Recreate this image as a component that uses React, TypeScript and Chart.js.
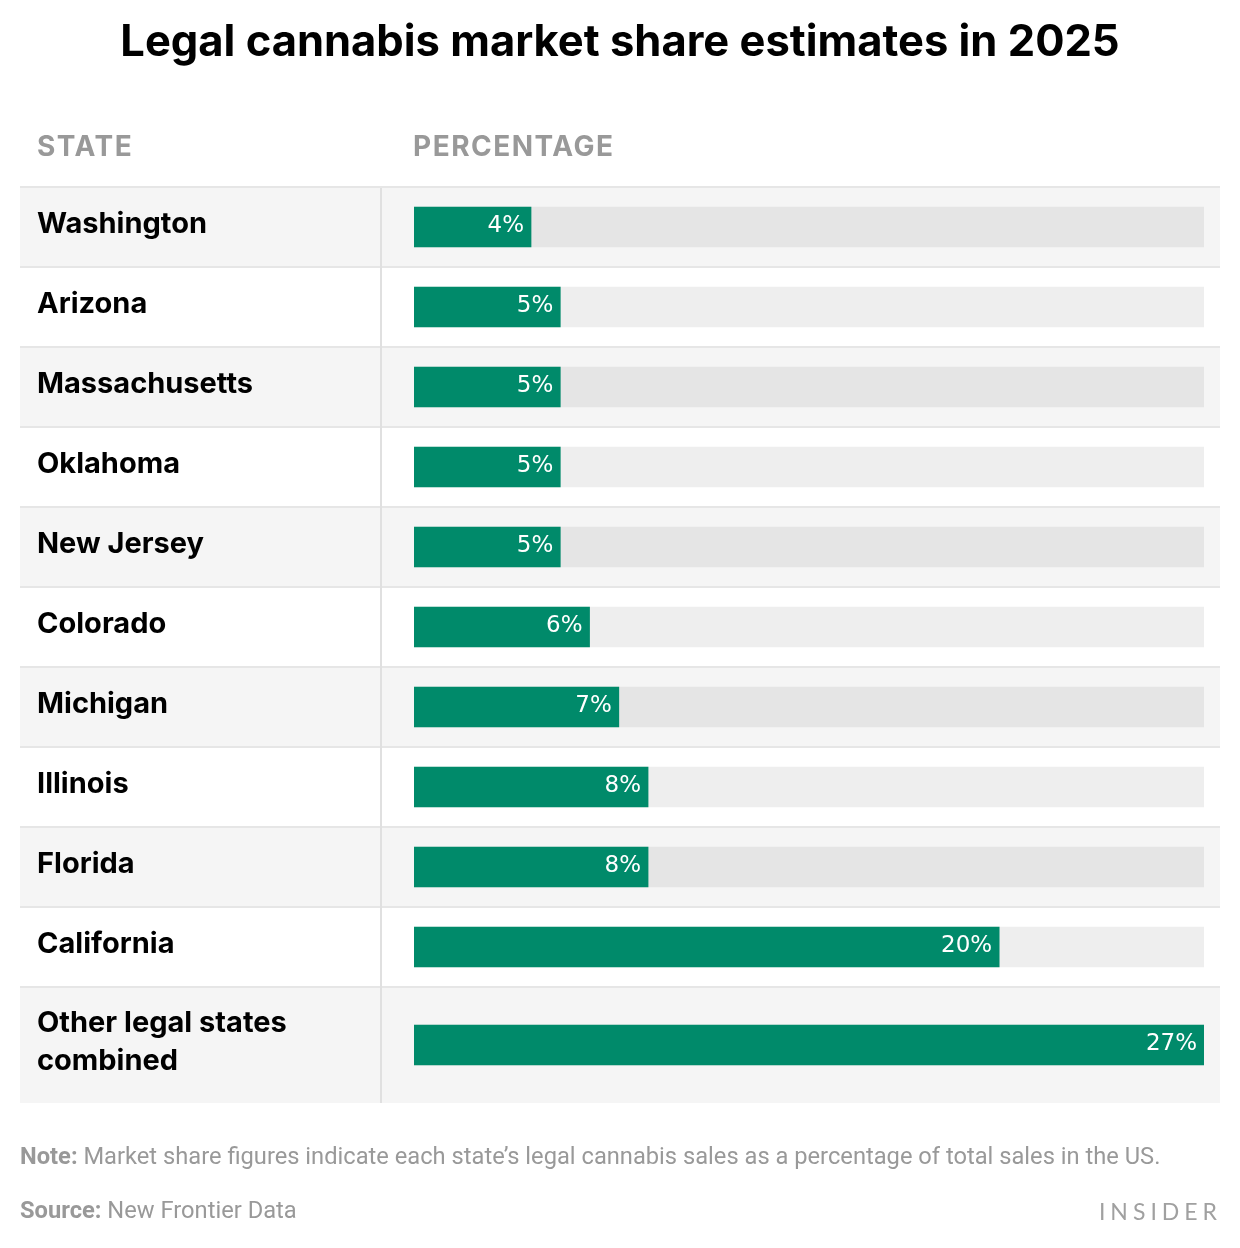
import { useEffect, useRef } from 'react';
import { Chart, registerables } from 'chart.js';

Chart.register(...registerables);

const TITLE = 'Legal cannabis market share estimates in 2025';
const COLUMN_HEADERS = ['STATE', 'PERCENTAGE'];
const STATES: string[][] = [
  ['Washington'],
  ['Arizona'],
  ['Massachusetts'],
  ['Oklahoma'],
  ['New Jersey'],
  ['Colorado'],
  ['Michigan'],
  ['Illinois'],
  ['Florida'],
  ['California'],
  ['Other legal states', 'combined'],
];
const SHARES = [4, 5, 5, 5, 5, 6, 7, 8, 8, 20, 27];
const SCALE_MAX = 27;
const NOTE_LABEL = 'Note:';
const NOTE_TEXT = ' Market share figures indicate each state’s legal cannabis sales as a percentage of total sales in the US.';
const SOURCE_LABEL = 'Source:';
const SOURCE_TEXT = ' New Frontier Data';
const BRAND = 'INSIDER';

const GREEN = '#008a6a';
const SHADE_BG = '#f5f5f5';
const PLAIN_BG = '#ffffff';
const SHADE_TRACK = '#e5e5e5';
const PLAIN_TRACK = '#eeeeee';
const RULE = '#e6e6e6';
const GREY_TEXT = '#999999';
const BOLD_FONT = 'Inter, "Noto Sans", sans-serif';
const NOTE_FONT = 'Roboto, "Liberation Sans", sans-serif';
const VALUE_FONT = '"DejaVu Sans", sans-serif';
const BRAND_FONT = 'Lato, "Open Sans", sans-serif';

// row height in units: one-line rows = 1, two-line rows a bit taller
const rowUnits = STATES.map((lines) => (lines.length > 1 ? 1.45 : 1));
const rowStarts: number[] = [];
rowUnits.reduce((acc, u) => {
  rowStarts.push(acc);
  return acc + u;
}, 0);
const TOTAL_UNITS = rowUnits.reduce((a, b) => a + b, 0);
const rowCenters = rowStarts.map((s, i) => s + rowUnits[i] / 2);

const TABLE_LEFT = 20;
const TABLE_RIGHT = 1220;
const DIVIDER_X = 381;
const LABEL_X = 37;

const tablePlugin = {
  id: 'tablePlugin',
  beforeDatasetsDraw(chart: any) {
    const { ctx } = chart;
    const y = chart.scales.y;
    ctx.save();
    STATES.forEach((_, i) => {
      const top = y.getPixelForValue(rowStarts[i]);
      const bottom = y.getPixelForValue(rowStarts[i] + rowUnits[i]);
      ctx.fillStyle = i % 2 === 0 ? SHADE_BG : PLAIN_BG;
      ctx.fillRect(TABLE_LEFT, top, TABLE_RIGHT - TABLE_LEFT, bottom - top);
    });
    ctx.fillStyle = RULE;
    STATES.forEach((_, i) => {
      const top = y.getPixelForValue(rowStarts[i]);
      ctx.fillRect(TABLE_LEFT, top - 1, TABLE_RIGHT - TABLE_LEFT, 2);
    });
    const tTop = y.getPixelForValue(0);
    const tBottom = y.getPixelForValue(TOTAL_UNITS);
    ctx.fillStyle = '#e0e0e0';
    ctx.fillRect(DIVIDER_X - 1, tTop + 1, 2, tBottom - tTop - 1);
    ctx.restore();
  },
  afterDatasetsDraw(chart: any) {
    const { ctx } = chart;
    const y = chart.scales.y;
    const meta = chart.getDatasetMeta(0);
    ctx.save();
    // value labels
    ctx.font = `400 23px ${VALUE_FONT}`;
    ctx.fillStyle = '#ffffff';
    ctx.textAlign = 'right';
    ctx.textBaseline = 'middle';
    meta.data.forEach((bar: any, i: number) => {
      ctx.fillText(`${SHARES[i]}%`, bar.x - 7, bar.y - 1);
    });
    // state labels
    ctx.font = `700 29px ${BOLD_FONT}`;
    ctx.fillStyle = '#000000';
    ctx.textAlign = 'left';
    STATES.forEach((lines, i) => {
      const cy = y.getPixelForValue(rowCenters[i]);
      const lh = 38;
      lines.forEach((line, j) => {
        const ly = cy - 3 + (j - (lines.length - 1) / 2) * lh;
        ctx.fillText(line, LABEL_X, ly);
      });
    });
    // column headers
    ctx.font = `700 28px ${BOLD_FONT}`;
    (ctx as any).letterSpacing = '1.5px';
    ctx.fillStyle = GREY_TEXT;
    ctx.fillText(COLUMN_HEADERS[0], LABEL_X, 148);
    ctx.fillText(COLUMN_HEADERS[1], chart.chartArea.left - 1, 148);
    (ctx as any).letterSpacing = '0px';
    // title
    ctx.font = `700 43.5px ${BOLD_FONT}`;
    ctx.fillStyle = '#000000';
    ctx.textAlign = 'center';
    ctx.fillText(TITLE, 620, 43);
    // footer
    ctx.textAlign = 'left';
    const drawPair = (label: string, text: string, yy: number) => {
      ctx.font = `700 23.7px ${NOTE_FONT}`;
      ctx.fillStyle = GREY_TEXT;
      ctx.fillText(label, TABLE_LEFT, yy);
      const w = ctx.measureText(label).width;
      ctx.font = `400 23.7px ${NOTE_FONT}`;
      ctx.fillText(text, TABLE_LEFT + w, yy);
    };
    drawPair(NOTE_LABEL, NOTE_TEXT, 1158);
    drawPair(SOURCE_LABEL, SOURCE_TEXT, 1212);
    ctx.font = `400 23px ${BRAND_FONT}`;
    ctx.fillStyle = '#a0a0a0';
    ctx.textAlign = 'right';
    (ctx as any).letterSpacing = '5px';
    ctx.fillText(BRAND, 1222, 1213);
    ctx.restore();
  },
};

export default function App() {
  const canvasRef = useRef<HTMLCanvasElement | null>(null);

  useEffect(() => {
    const canvas = canvasRef.current;
    if (!canvas) return;
    const chart = new Chart(canvas, {
      type: 'bar',
      data: {
        datasets: [
          {
            label: 'Share',
            data: SHARES.map((v, i) => ({ x: v, y: rowCenters[i] })),
            backgroundColor: GREEN,
            barThickness: 40,
            grouped: false,
            order: 0,
          },
          {
            label: 'Track',
            data: SHARES.map((_, i) => ({ x: SCALE_MAX, y: rowCenters[i] })),
            backgroundColor: SHARES.map((_, i) => (i % 2 === 0 ? SHADE_TRACK : PLAIN_TRACK)),
            barThickness: 40,
            grouped: false,
            order: 1,
          },
        ],
      } as any,
      options: {
        indexAxis: 'y',
        animation: false,
        responsive: false,
        devicePixelRatio: 1,
        layout: { padding: { left: 414, right: 36, top: 187, bottom: 145 } },
        plugins: { legend: { display: false }, tooltip: { enabled: false } },
        scales: {
          x: { type: 'linear', min: 0, max: SCALE_MAX, display: false },
          y: { type: 'linear', min: 0, max: TOTAL_UNITS, reverse: true, offset: false, display: false },
        },
      } as any,
      plugins: [tablePlugin],
    });
    return () => chart.destroy();
  }, []);

  return (
    <div style={{ position: 'absolute', left: 0, top: 0, width: 1240, height: 1248, background: '#ffffff' }}>
      <canvas ref={canvasRef} width={1240} height={1248} style={{ display: 'block' }} />
    </div>
  );
}
